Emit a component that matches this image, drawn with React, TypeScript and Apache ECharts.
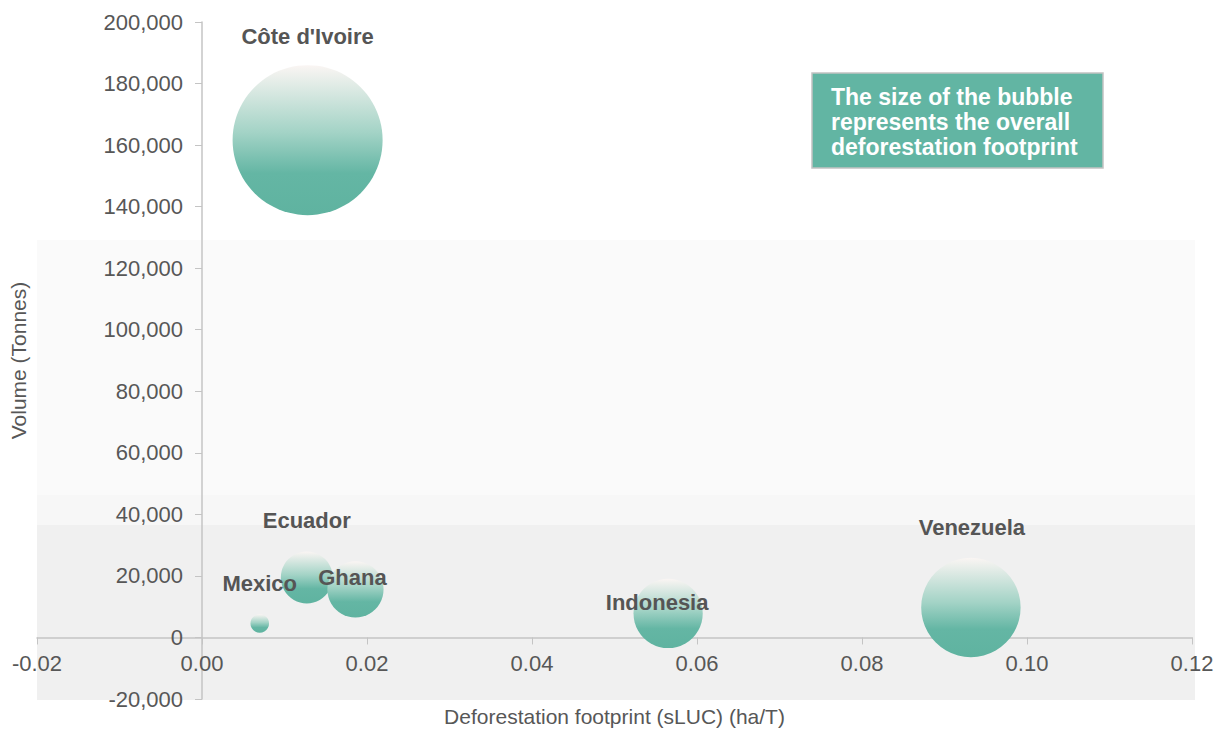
import React, { useEffect, useRef } from "react";
import * as echarts from "echarts";

const countries = ["Côte d'Ivoire", "Ecuador", "Ghana", "Mexico", "Indonesia", "Venezuela"];
const sluc = [0.0128, 0.0127, 0.0186, 0.007, 0.0565, 0.0932];
const volume = [161600, 19500, 15600, 4550, 7800, 9750];
const labelOffsets = [[0, -104], [0, -57], [-3, -12], [0, -40], [-11, -11], [1, -80]];
const xTicks = { min: -0.02, max: 0.12, interval: 0.02 };
const yTicks = { min: -20000, max: 200000, interval: 20000 };
const noteLines = ["The size of the bubble", "represents the overall", "deforestation footprint"];

const FONT = "'Liberation Sans', Arial, Helvetica, sans-serif";
const TXT = "#575757";

export default function App() {
  const ref = useRef<HTMLDivElement>(null);
  useEffect(() => {
    if (!ref.current) return;
    const chart = echarts.init(ref.current, null, { renderer: "svg" });
    const footprints = sluc.map((x, i) => x * volume[i]);
    const maxFp = Math.max(...footprints);
    const grad = () =>
      new echarts.graphic.LinearGradient(0, 0, 0, 1, [
        { offset: 0, color: "#faf5f3" },
        { offset: 0.45, color: "#a3d3c6" },
        { offset: 0.72, color: "#64b6a4" },
        { offset: 1, color: "#5fb3a0" },
      ]);
    const gridLeft = 37, gridRight = 35, gridTop = 22, gridBottom = 32;
    const plotW = 1227 - gridLeft - gridRight;
    const plotH = 731 - gridTop - gridBottom;
    const yAxisShift = (plotW * (0 - xTicks.min)) / (xTicks.max - xTicks.min);
    const xAxisShift = (plotH * (0 - yTicks.min)) / (yTicks.max - yTicks.min);
    chart.setOption({
      animation: false,
      textStyle: { fontFamily: FONT },
      grid: { left: gridLeft, right: gridRight, top: gridTop, bottom: gridBottom, containLabel: false, outerBoundsMode: "none" },
      xAxis: {
        type: "value",
        min: xTicks.min,
        max: xTicks.max,
        interval: xTicks.interval,
        offset: -xAxisShift,
        name: "Deforestation footprint (sLUC) (ha/T)",
        nameLocation: "middle",
        nameGap: 69,
        nameTextStyle: { color: TXT, fontSize: 21, fontFamily: FONT },
        axisLine: { onZero: false, lineStyle: { color: "#c4c4c4", width: 1.5 } },
        axisTick: { show: true, length: 7, lineStyle: { color: "#c4c4c4" } },
        axisLabel: {
          color: TXT,
          fontSize: 22,
          margin: 15,
          fontFamily: FONT,
          formatter: (v: number) => v.toFixed(2),
        },
        splitLine: { show: false },
      },
      yAxis: {
        type: "value",
        min: yTicks.min,
        max: yTicks.max,
        interval: yTicks.interval,
        offset: -yAxisShift,
        name: "Volume (Tonnes)",
        nameLocation: "middle",
        nameGap: 173,
        nameTextStyle: { color: TXT, fontSize: 21, fontFamily: FONT },
        axisLine: { onZero: false, lineStyle: { color: "#c4c4c4", width: 1.5 } },
        axisTick: { show: true, length: 7, lineStyle: { color: "#c4c4c4" } },
        axisLabel: {
          color: TXT,
          fontSize: 22,
          margin: 19,
          fontFamily: FONT,
          formatter: (v: number) => v.toLocaleString("en-US"),
        },
        splitLine: { show: false },
      },
      graphic: [
        { type: "rect", z: -10, shape: { x: 37, y: 240, width: 1158, height: 255 }, style: { fill: "#fafafa" } },
        { type: "rect", z: -10, shape: { x: 37, y: 495, width: 1158, height: 30 }, style: { fill: "#f7f7f7" } },
        { type: "rect", z: -10, shape: { x: 37, y: 525, width: 1158, height: 175 }, style: { fill: "#f0f0f0" } },
        {
          type: "group",
          z: 10,
          children: [
            {
              type: "rect",
              shape: { x: 812, y: 73, width: 291, height: 95 },
              style: { fill: "#62b5a3", stroke: "#c2c2c2", lineWidth: 1.5 },
            },
            ...noteLines.map((t, i) => ({
              type: "text",
              x: 831,
              y: 97 + i * 25,
              style: {
                text: t,
                fill: "#ffffff",
                font: `bold 23px ${FONT}`,
                verticalAlign: "middle",
              },
            })),
          ],
        },
      ],
      series: [
        {
          type: "scatter",
          z: 3,
          data: countries.map((c, i) => ({
            name: c,
            value: [sluc[i], volume[i]],
            symbolSize: 150 * Math.sqrt(footprints[i] / maxFp),
            itemStyle: { color: grad(), opacity: 1 },
            label: {
              show: true,
              position: "inside",
              offset: labelOffsets[i],
              formatter: c,
              color: "#555555",
              opacity: 1,
              fontSize: 22,
              fontWeight: "bold",
              fontFamily: FONT,
            },
          })),
        },
      ],
    });
    return () => chart.dispose();
  }, []);
  return (
    <div
      ref={ref}
      style={{ position: "fixed", left: 0, top: 0, width: 1227, height: 731, background: "#ffffff" }}
    />
  );
}
